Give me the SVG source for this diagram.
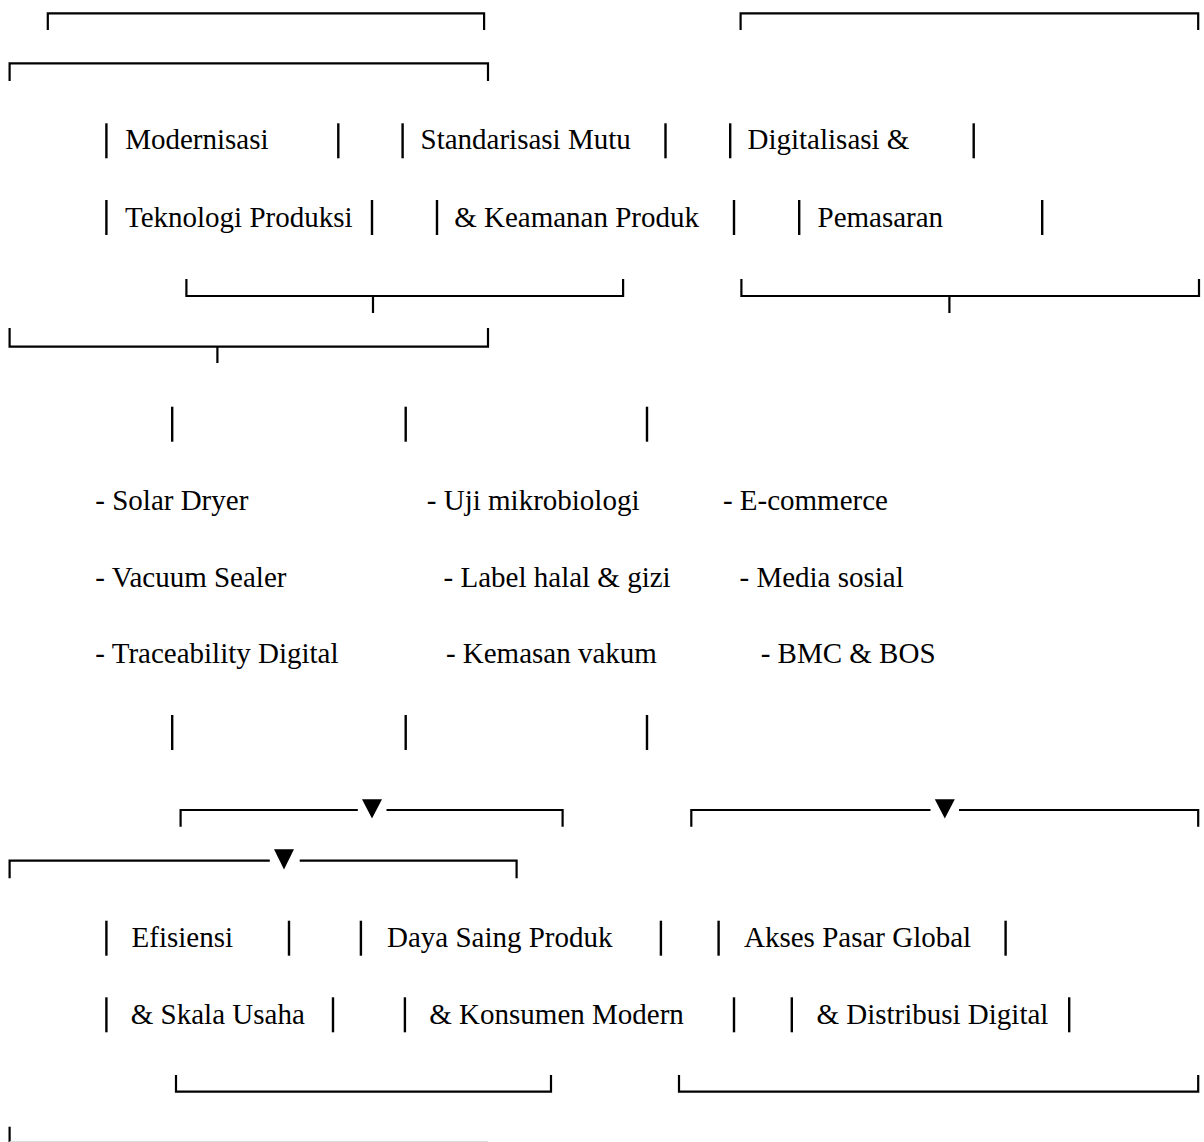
<svg xmlns="http://www.w3.org/2000/svg" width="1204" height="1142" viewBox="0 0 1204 1142">
<style>
  text { font-family: "Liberation Serif", "Times New Roman", serif; font-size: 29px; fill: #000; }
  .ln { fill: none; stroke: #000; stroke-width: 2.2; stroke-linejoin: miter; stroke-linecap: butt; }
  .bar { stroke: #000; stroke-width: 2.4; }
  .tri { fill: #000; }
</style>
<rect width="1204" height="1142" fill="#fff"/>

<g id="connectors">
  <!-- top brackets -->
  <path class="ln" d="M47.8 30 V13.3 H484.1 V30"/>
  <path class="ln" d="M740.6 30 V13.3 H1198.2 V30"/>
  <path class="ln" d="M9.6 81 V63.3 H488 V81"/>
  <!-- bottom brackets of the first row -->
  <path class="ln" d="M186.4 279 V296 H623.1 V279 M373 296 V313"/>
  <path class="ln" d="M741.4 279 V296 H1199 V279 M949.4 296 V313"/>
  <path class="ln" d="M9.6 328 V346.7 H488 V328 M217.4 346.7 V363"/>
  <!-- vertical connectors -->
  <g class="bar">
    <line x1="172.2" y1="406.7" x2="172.2" y2="441.7"/>
    <line x1="405.7" y1="406.7" x2="405.7" y2="441.7"/>
    <line x1="647" y1="406.7" x2="647" y2="441.7"/>
    <line x1="172.2" y1="715" x2="172.2" y2="750"/>
    <line x1="405.7" y1="715" x2="405.7" y2="750"/>
    <line x1="647" y1="715" x2="647" y2="750"/>
  </g>
  <!-- arrow brackets -->
  <path class="ln" d="M180.6 826.7 V810 H357.8 M386.5 810 H562.6 V826.7"/>
  <polygon class="tri" points="362,799.3 382,799.3 372,818.5"/>
  <path class="ln" d="M691.3 826.7 V810 H930.5 M959 810 H1198.2 V826.7"/>
  <polygon class="tri" points="934.8,799.3 954.8,799.3 944.8,818.5"/>
  <path class="ln" d="M9.6 878.3 V860.7 H269.8 M299.7 860.7 H516.6 V878.3"/>
  <polygon class="tri" points="274,849.3 294,849.3 284,869.5"/>
  <!-- bottom brackets -->
  <path class="ln" d="M176 1075 V1091.7 H551 V1075"/>
  <path class="ln" d="M679 1075 V1091.7 H1198.2 V1075"/>
  <path class="ln" d="M9.6 1126.7 V1142"/>
  <line x1="9.6" y1="1141.6" x2="488" y2="1141.6" stroke="#d8d8d8" stroke-width="1"/>
</g>

<g id="node-modernisasi">
  <g class="bar">
    <line x1="106.4" y1="123.3" x2="106.4" y2="158.3"/>
    <line x1="338.3" y1="123.3" x2="338.3" y2="158.3"/>
    <line x1="106.4" y1="200" x2="106.4" y2="235"/>
    <line x1="372" y1="200" x2="372" y2="235"/>
  </g>
  <text x="125.2" y="149.3">Modernisasi</text>
  <text x="125" y="226.7">Teknologi Produksi</text>
</g>

<g id="node-standarisasi">
  <g class="bar">
    <line x1="402.6" y1="123.3" x2="402.6" y2="158.3"/>
    <line x1="665.5" y1="123.3" x2="665.5" y2="158.3"/>
    <line x1="437" y1="200" x2="437" y2="235"/>
    <line x1="734" y1="200" x2="734" y2="235"/>
  </g>
  <text x="420.5" y="149.3">Standarisasi Mutu</text>
  <text x="454.2" y="226.7">&amp; Keamanan Produk</text>
</g>

<g id="node-digitalisasi">
  <g class="bar">
    <line x1="730.2" y1="123.3" x2="730.2" y2="158.3"/>
    <line x1="973.7" y1="123.3" x2="973.7" y2="158.3"/>
    <line x1="799.2" y1="200" x2="799.2" y2="235"/>
    <line x1="1042.2" y1="200" x2="1042.2" y2="235"/>
  </g>
  <text x="747.5" y="149.3">Digitalisasi &amp;</text>
  <text x="817.5" y="226.7">Pemasaran</text>
</g>

<g id="list-teknologi">
  <text x="95.3" y="510">- Solar Dryer</text>
  <text x="95.3" y="586.7">- Vacuum Sealer</text>
  <text x="95.3" y="663.3">- Traceability Digital</text>
</g>

<g id="list-mutu">
  <text x="426.8" y="510">- Uji mikrobiologi</text>
  <text x="443.6" y="586.7">- Label halal &amp; gizi</text>
  <text x="445.9" y="663.3">- Kemasan vakum</text>
</g>

<g id="list-digital">
  <text x="722.9" y="510">- E-commerce</text>
  <text x="739.5" y="586.7">- Media sosial</text>
  <text x="760.7" y="663.3">- BMC &amp; BOS</text>
</g>

<g id="node-efisiensi">
  <g class="bar">
    <line x1="106.4" y1="920.7" x2="106.4" y2="955.7"/>
    <line x1="289" y1="920.7" x2="289" y2="955.7"/>
    <line x1="106.4" y1="997.3" x2="106.4" y2="1032.3"/>
    <line x1="333" y1="997.3" x2="333" y2="1032.3"/>
  </g>
  <text x="131.6" y="946.7">Efisiensi</text>
  <text x="130.8" y="1024">&amp; Skala Usaha</text>
</g>

<g id="node-daya-saing">
  <g class="bar">
    <line x1="360.9" y1="920.7" x2="360.9" y2="955.7"/>
    <line x1="660.9" y1="920.7" x2="660.9" y2="955.7"/>
    <line x1="404.9" y1="997.3" x2="404.9" y2="1032.3"/>
    <line x1="734" y1="997.3" x2="734" y2="1032.3"/>
  </g>
  <text x="387" y="946.7">Daya Saing Produk</text>
  <text x="429.3" y="1024">&amp; Konsumen Modern</text>
</g>

<g id="node-akses-pasar">
  <g class="bar">
    <line x1="718.6" y1="920.7" x2="718.6" y2="955.7"/>
    <line x1="1005.6" y1="920.7" x2="1005.6" y2="955.7"/>
    <line x1="791.8" y1="997.3" x2="791.8" y2="1032.3"/>
    <line x1="1069.2" y1="997.3" x2="1069.2" y2="1032.3"/>
  </g>
  <text x="744" y="946.7">Akses Pasar Global</text>
  <text x="816.4" y="1024">&amp; Distribusi Digital</text>
</g>
</svg>
